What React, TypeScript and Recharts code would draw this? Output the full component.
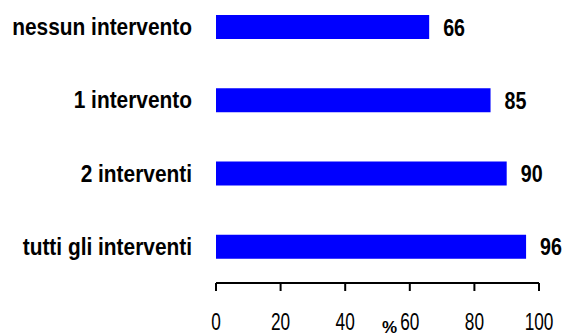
import { Bar, BarChart, Label, LabelList, XAxis, YAxis } from "recharts";

const categories = ["nessun intervento", "1 intervento", "2 interventi", "tutti gli interventi"];
const values = [66, 85, 90, 96];
const xTicks = [0, 20, 40, 60, 80, 100];

const FONT = "'Liberation Sans', Arial, sans-serif";

const data = categories.map((name, i) => ({ name, value: values[i] }));

// the original text is tall and narrow, so squeeze it horizontally
function CategoryTick({ x, y, payload }: any) {
  return (
    <text
      transform={`translate(${x},${y}) scale(0.87,1)`}
      textAnchor="end"
      dy="0.355em"
      fill="#000"
      fontFamily={FONT}
      fontWeight="bold"
      fontSize={24}
    >
      {payload.value}
    </text>
  );
}

function NumberTick({ x, y, payload }: any) {
  return (
    <text
      transform={`translate(${x},${y}) scale(0.75,1)`}
      textAnchor="middle"
      dy="0.71em"
      fill="#000"
      fontFamily={FONT}
      fontSize={23}
    >
      {payload.value}
    </text>
  );
}

function ValueLabel({ x, y, width, height, value }: any) {
  return (
    <text
      transform={`translate(${x + width + 14},${y + height / 2}) scale(0.82,1)`}
      dy="0.355em"
      fill="#000"
      fontFamily={FONT}
      fontWeight="bold"
      fontSize={24}
    >
      {value}
    </text>
  );
}

function PercentLabel(props: any) {
  const vb = props.viewBox || { x: 0, y: 0, width: 0, height: 0 };
  return (
    <text
      x={vb.x + vb.width * 0.537}
      y={vb.y + 50}
      textAnchor="middle"
      fill="#000"
      fontFamily={FONT}
      fontWeight="bold"
      fontSize={17}
    >
      %
    </text>
  );
}

export default function App() {
  return (
    <div style={{ position: "absolute", left: 0, top: -10, width: 563, height: 346 }}>
      <BarChart
        width={563}
        height={346}
        data={data}
        layout="vertical"
        margin={{ top: 0, right: 24, bottom: 0, left: 0 }}
      >
        <XAxis
          type="number"
          domain={[0, 100]}
          ticks={xTicks}
          interval={0}
          height={53}
          axisLine={{ stroke: "#000", strokeWidth: 2 }}
          tickLine={{ stroke: "#000", strokeWidth: 2 }}
          tickSize={8}
          tickMargin={23}
          tick={<NumberTick />}
        >
          <Label content={<PercentLabel />} />
        </XAxis>
        <YAxis
          type="category"
          dataKey="name"
          width={216}
          axisLine={false}
          tickLine={false}
          tickSize={0}
          tickMargin={24}
          tick={<CategoryTick />}
        />
        <Bar dataKey="value" fill="#0000ff" barSize={24} isAnimationActive={false}>
          <LabelList dataKey="value" content={<ValueLabel />} />
        </Bar>
      </BarChart>
    </div>
  );
}
